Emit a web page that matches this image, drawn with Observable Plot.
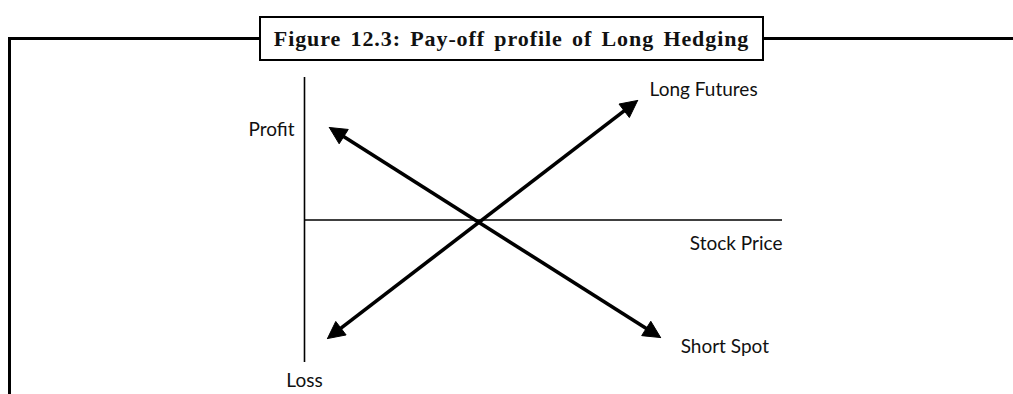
<!DOCTYPE html>
<html>
<head>
<meta charset="utf-8">
<script src="https://cdn.jsdelivr.net/npm/d3@7"></script>
<script src="https://cdn.jsdelivr.net/npm/@observablehq/plot@0.6"></script>
<style>
  html, body { margin: 0; padding: 0; background: #fff; }
  #wrap { position: relative; width: 1013px; height: 394px; overflow: hidden; }
  #frame { position: absolute; left: 8px; top: 37px; right: -5px; bottom: -5px;
           border-left: 3px solid #000; border-top: 3px solid #000; }
  #chart { position: absolute; left: 0; top: 0; }
  #title { position: absolute; left: 259px; top: 16px; width: 505px; height: 45px;
           box-sizing: border-box; border: 2.5px solid #000; background: #fff;
           display: flex; align-items: center; justify-content: center;
           font-family: "Liberation Serif", serif; font-weight: bold; font-size: 22px;
           letter-spacing: 0.9px; word-spacing: 3px; color: #111; }
</style>
</head>
<body>
<div id="wrap">
  <div id="frame"></div>
  <div id="chart"></div>
  <div id="title">Figure 12.3: Pay-off profile of Long Hedging</div>
</div>
<script>
// ---- data (schematic units: stock price on x, profit/loss on y) ----
const seriesNames = ["Long Futures", "Short Spot"];
const seriesStartX = [4.8, 5.2];
const seriesStartY = [-83.2, 64.9];
const seriesEndX   = [69.7, 74.5];
const seriesEndY   = [83.9, -82.5];

const labelTexts  = ["Profit", "Loss", "Stock Price", "Long Futures", "Short Spot"];
const labelX      = [-2.1, 0, 100, 72.2, 78.7];
const labelY      = [58.6, -117.5, -21.4, 86.7, -93];
const labelAnchor = ["end", "middle", "end", "start", "start"];

// ---- layout ----
const W = 1013, H = 394;
const mL = 304, mR = 231, mT = 77, mB = 32;
const xDomain = [0, 100], yDomain = [-100, 100];

const xs = Plot.scale({x: {domain: xDomain, range: [mL, W - mR]}});
const ys = Plot.scale({y: {domain: yDomain, range: [H - mB, mT]}});

const headLen = 17, headHalf = 8.5;
const segments = [];
const heads = [];
seriesNames.forEach((name, i) => {
  const p0 = [xs.apply(seriesStartX[i]), ys.apply(seriesStartY[i])];
  const p1 = [xs.apply(seriesEndX[i]), ys.apply(seriesEndY[i])];
  const ends = [[p0, p1], [p1, p0]];
  const bases = [];
  ends.forEach(([tip, other], k) => {
    const dx = tip[0] - other[0], dy = tip[1] - other[1];
    const len = Math.hypot(dx, dy);
    const ux = dx / len, uy = dy / len;
    const bx = tip[0] - ux * headLen, by = tip[1] - uy * headLen;
    const nx = -uy, ny = ux;
    const pts = [tip, [bx + nx * headHalf, by + ny * headHalf], [bx - nx * headHalf, by - ny * headHalf], tip];
    pts.forEach(p => heads.push({id: name + k, x: xs.invert(p[0]), y: ys.invert(p[1])}));
    bases.push([tip[0] - ux * (headLen - 2), tip[1] - uy * (headLen - 2)]);
  });
  segments.push({name, x1: xs.invert(bases[0][0]), y1: ys.invert(bases[0][1]),
                       x2: xs.invert(bases[1][0]), y2: ys.invert(bases[1][1])});
});

const labels = labelTexts.map((t, i) => ({t, x: labelX[i], y: labelY[i], a: labelAnchor[i]}));

const plot = Plot.plot({
  width: W, height: H,
  marginLeft: mL, marginRight: mR, marginTop: mT, marginBottom: mB,
  x: {domain: xDomain, axis: null},
  y: {domain: yDomain, axis: null},
  style: {background: "transparent", overflow: "visible"},
  marks: [
    Plot.ruleY([0], {stroke: "#000", strokeWidth: 1.6}),
    Plot.ruleX([0], {stroke: "#000", strokeWidth: 1.6}),
    Plot.link(segments, {x1: "x1", y1: "y1", x2: "x2", y2: "y2", stroke: "#000", strokeWidth: 3.6}),
    Plot.line(heads, {x: "x", y: "y", z: "id", fill: "#000", stroke: "#000", strokeWidth: 1, strokeLinejoin: "miter"}),
    ...["start", "middle", "end"].map(a =>
      Plot.text(labels.filter(d => d.a === a), {
        x: "x", y: "y", text: "t", textAnchor: a, lineAnchor: "bottom",
        fontFamily: "Lato, 'Open Sans', sans-serif", fontSize: 19, fill: "#111"
      }))
  ]
});
document.getElementById("chart").appendChild(plot);
</script>
</body>
</html>
